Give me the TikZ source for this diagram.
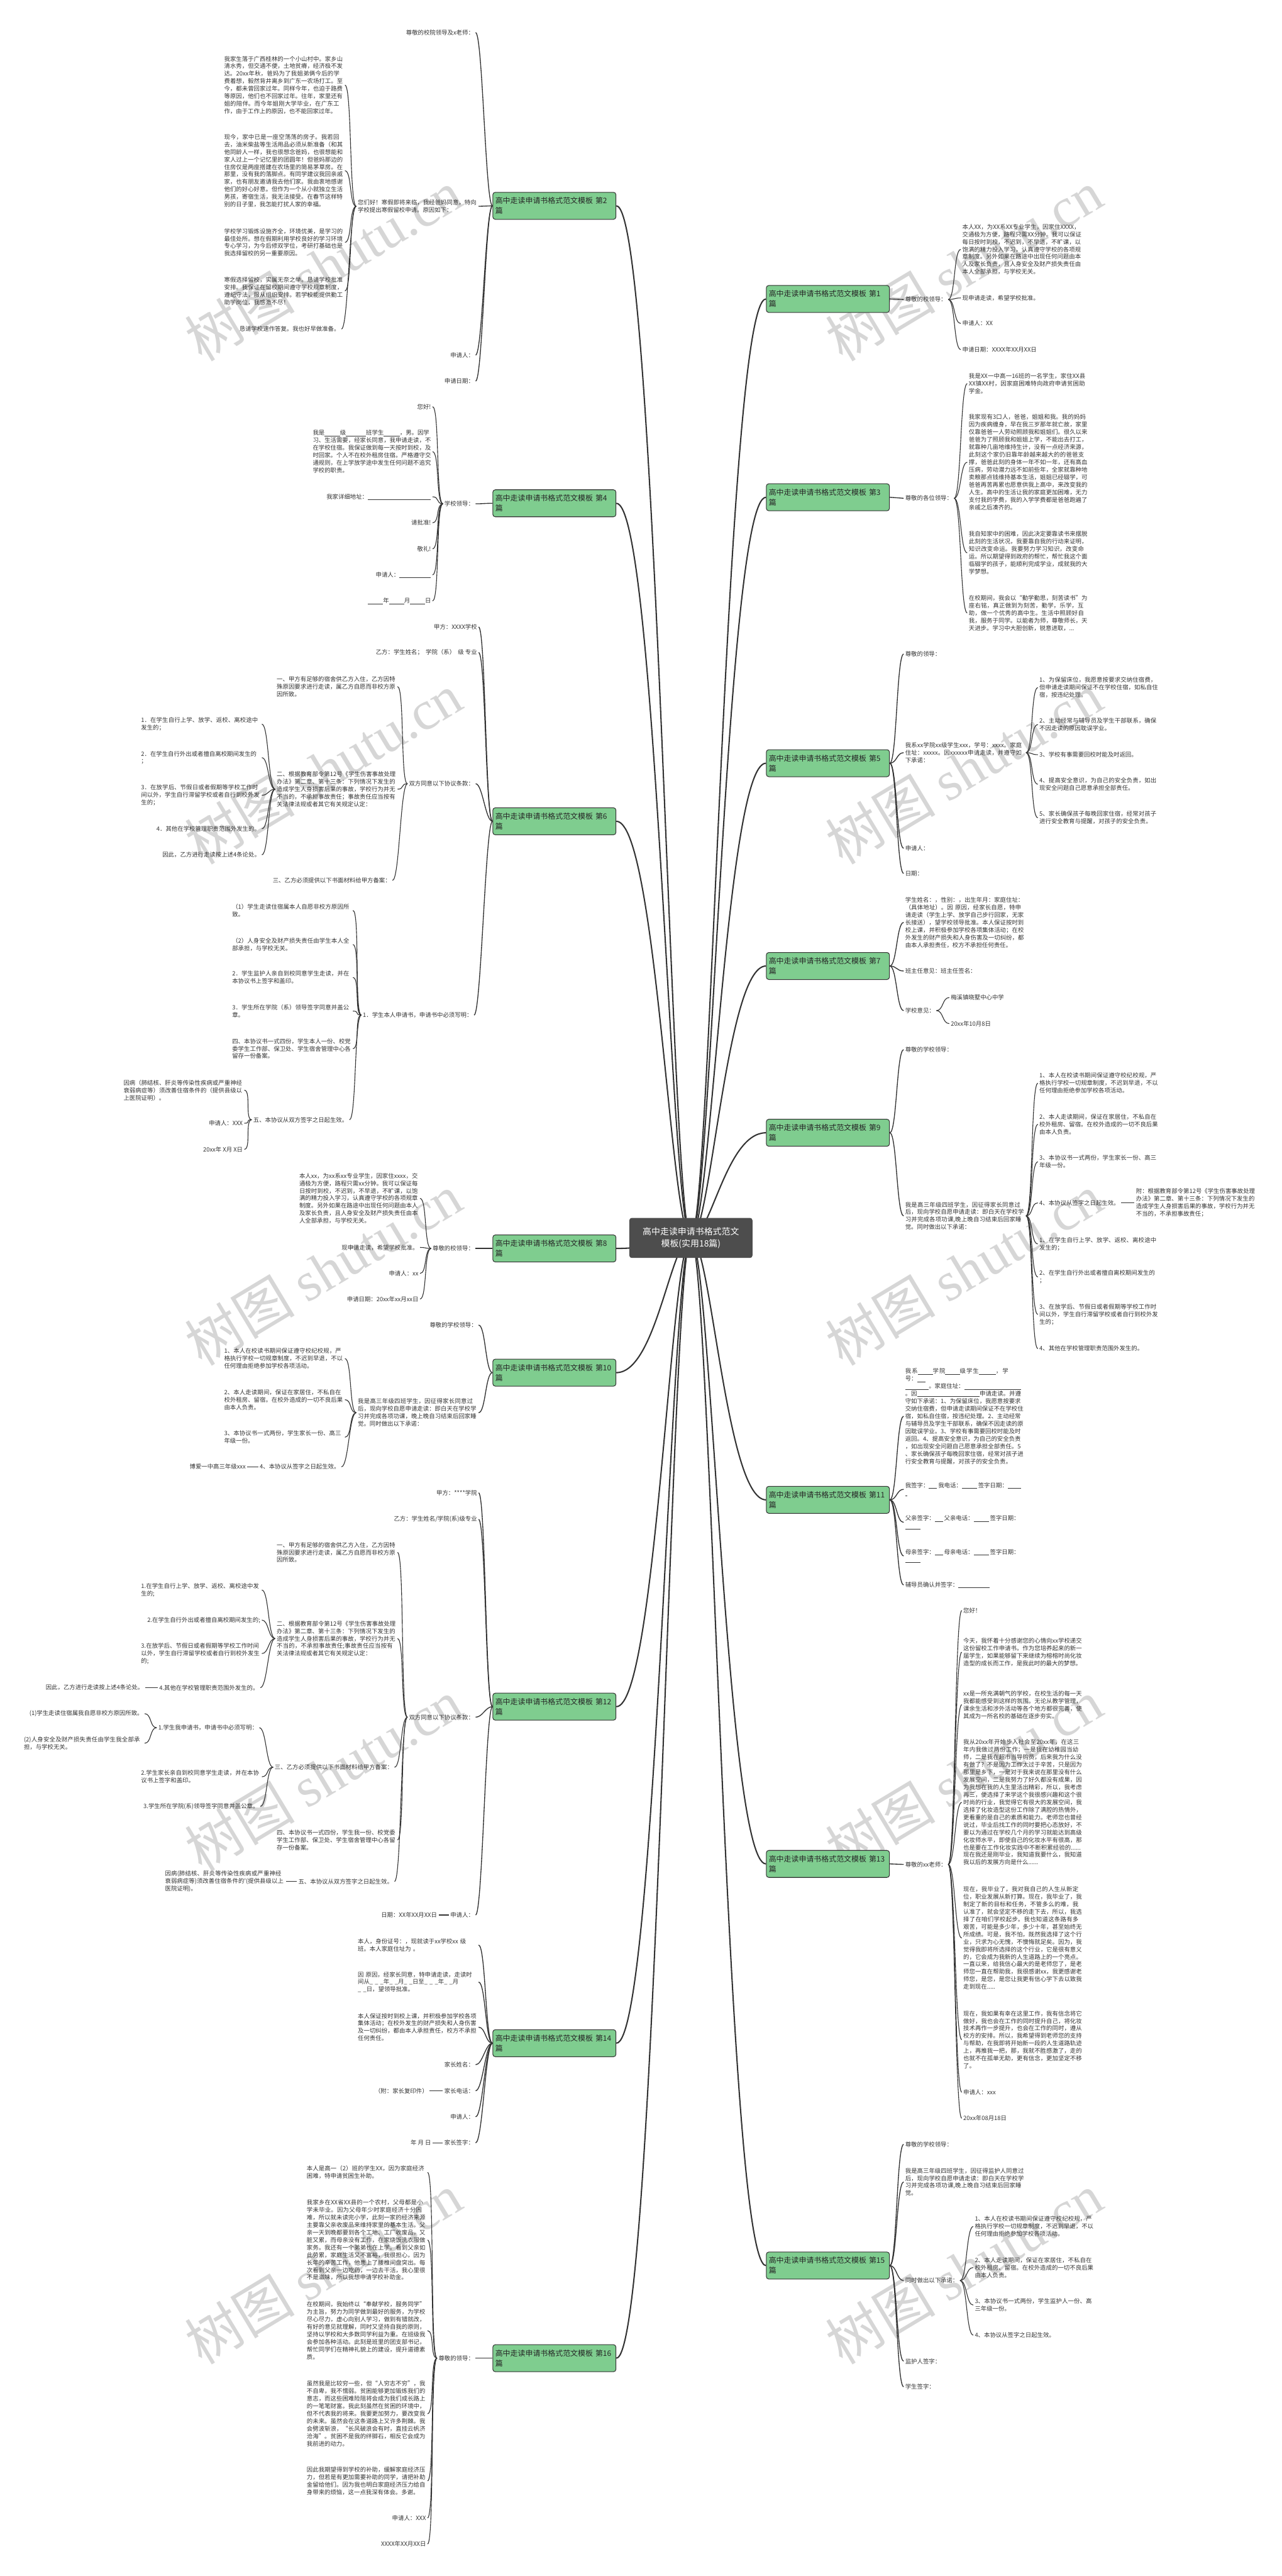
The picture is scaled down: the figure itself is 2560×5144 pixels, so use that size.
\documentclass[tikz,border=0pt]{standalone}
\usepackage{fontspec}
\newfontfamily\cjk{Noto Sans CJK SC}
\newfontfamily\wmlatin{Liberation Serif}
\XeTeXlinebreaklocale "zh"
\XeTeXlinebreakskip = 0pt plus 1pt
\definecolor{ink}{HTML}{333333}
\definecolor{pianfill}{HTML}{7FCD8F}
\definecolor{rootfill}{HTML}{4D4D4D}
\definecolor{wmgray}{HTML}{D6D6D6}
\newcommand{\leaffont}{\cjk\fontsize{11.8}{15}\selectfont}
\newcommand{\pianfont}{\cjk\fontsize{15}{20}\selectfont}
\newcommand{\rootfont}{\cjk\fontsize{17.5}{24}\selectfont}
\newcommand{\wmfont}{\cjk\fontsize{110}{110}\selectfont}
\newcommand{\fillin}[1]{\underline{\hspace{#1}}}
\tikzset{
  leaf/.style={font=\leaffont, text=ink, inner xsep=3pt, inner ysep=1pt, align=left},
  para/.style={leaf, text width=238pt},
  pian/.style={draw=ink, line width=1.3pt, fill=pianfill, rounded corners=5pt,
    font=\pianfont, text=black!85, text width=236pt, align=left,
    inner xsep=5pt, inner ysep=8pt, minimum height=54pt},
  hubnode/.style={fill=rootfill, rounded corners=5pt, font=\rootfont, text=white,
    align=center, minimum width=246pt, minimum height=80pt},
  trunk/.style={draw=ink, line width=2.6pt},
  link/.style={draw=ink, line width=1.7pt},
  twig/.style={draw=ink, line width=1.4pt},
  rto/.style={to path={.. controls +(14,0) and +(-14,0) .. (\tikztotarget)}},
  lto/.style={to path={.. controls +(-14,0) and +(14,0) .. (\tikztotarget)}},
  wmark/.style={font=\wmfont, text=wmgray, rotate=31},
}
\begin{document}
\begin{tikzpicture}[x=1pt, y=-1pt]
  \useasboundingbox (0,0) rectangle (2560,5144);
  \fill[white] (0,0) rectangle (2560,5144);
  %% watermarks
  \foreach \wy [count=\i] in {530,1535,2535,3545,4530} {
    \node[wmark] (wl\i) at (646,\wy) {树图 {\wmlatin shutu.cn}};
    \node[wmark] (wr\i) at (1925,\wy) {树图 {\wmlatin shutu.cn}};
  }
  \coordinate (hub) at (1380,2472);

  %% ---------- right side ----------
  \node[pian, anchor=west] (p1) at (1530,597) {高中走读申请书格式范文模板 第1\\篇};
  \node[leaf, anchor=west] (p1a) at (1805,598) {尊敬的校领导：};
  \node[para, anchor=west] (p1a1) at (1919,498) {本人XX，为XX系XX专业学生，因家住XXXX，交通极为方便，路程只需XX分钟。我可以保证每日按时到校，不迟到，不早退，不旷课，以饱满的精力投入学习，认真遵守学校的各项规章制度。另外如果在路途中出现任何问题由本人及家长负责，且人身安全及财产损失责任由本人全部承担，与学校无关。};
  \node[leaf, anchor=west] (p1a2) at (1919,595) {现申请走读，希望学校批准。};
  \node[leaf, anchor=west] (p1a3) at (1919,646) {申请人：XX};
  \node[leaf, anchor=west] (p1a4) at (1919,698) {申请日期：XXXX年XX月XX日};

  \node[pian, anchor=west] (p3) at (1530,993) {高中走读申请书格式范文模板 第3\\篇};
  \node[leaf, anchor=west] (p3a) at (1805,995) {尊敬的各位领导：};
  \node[para, anchor=west] (p3a1) at (1932,766) {我是XX一中高一16班的一名学生，家住XX县XX镇XX村，因家庭困难特向政府申请贫困助学金。};
  \node[para, anchor=west] (p3a2) at (1932,923) {我家现有3口人，爸爸，姐姐和我。我的妈妈因为疾病缠身，早在我三岁那年就亡故，家里仅靠爸爸一人劳动照顾我和姐姐们。很久以来爸爸为了照顾我和姐姐上学，不能出去打工，就靠种几亩地维持生计，没有一点经济来源，此刻这个家仍旧靠年龄越来越大的的爸爸支撑，爸爸此刻的身体一年不如一年，还有高血压病，劳动潜力远不如前些年，全家就靠种地卖粮那点钱维持基本生活，姐姐已经辍学，可爸爸再苦再累也愿意供我上高中，来改变我的人生。高中的生活让我的家庭更加困难，无力支付我的学费，我的入学学费都是爸爸跑遍了亲戚之后凑齐的。};
  \node[para, anchor=west] (p3a3) at (1932,1104) {我自知家中的困难，因此决定要靠读书来摆脱此刻的生活状况，我要靠自我的行动来证明，知识改变命运。我要努力学习知识，改变命运。所以期望得到政府的帮忙，帮忙我这个面临辍学的孩子，能顺利完成学业，成就我的大学梦想。};
  \node[para, anchor=west] (p3a4) at (1932,1224) {在校期间，我会以“勤学勤思，刻苦读书”为座右铭，真正做到为刻苦，勤学，乐学，互助，做一个优秀的高中生。生活中照顾好自我，服务于同学。以能者为师，尊敬师长，天天进步。学习中大胆创新，锐意进取，...};

  \node[pian, anchor=west] (p5) at (1530,1524) {高中走读申请书格式范文模板 第5\\篇};
  \node[leaf, anchor=west] (p5a) at (1805,1306) {尊敬的领导：};
  \node[para, anchor=west] (p5b) at (1805,1503) {我系xx学院xx级学生xxx，学号：xxxx。家庭住址：xxxxx。因xxxxxx申请走读，并遵守如下承诺：};
  \node[para, anchor=west] (p5b1) at (2073,1373) {1、为保留床位，我愿意按要求交纳住宿费，但申请走读期间保证不在学校住宿，如私自住宿，按违纪处理。};
  \node[para, anchor=west] (p5b2) at (2073,1447) {2、主动经常与辅导员及学生干部联系，确保不因走读的原因耽误学业。};
  \node[leaf, anchor=west] (p5b3) at (2073,1507) {3、学校有事需要回校时能及时返回。};
  \node[para, anchor=west] (p5b4) at (2073,1566) {4、提高安全意识，为自己的安全负责，如出现安全问题自己愿意承担全部责任。};
  \node[para, anchor=west] (p5b5) at (2073,1633) {5、家长确保孩子每晚回家住宿，经常对孩子进行安全教育与提醒，对孩子的安全负责。};
  \node[leaf, anchor=west] (p5c) at (1805,1694) {申请人：};
  \node[leaf, anchor=west] (p5d) at (1805,1744) {日期：};

  \node[pian, anchor=west] (p7) at (1530,1929) {高中走读申请书格式范文模板 第7\\篇};
  \node[para, anchor=west] (p7a) at (1805,1842) {学生姓名：，性别：，出生年月：家庭住址：（具体地址）。因 原因，经家长自愿，特申请走读（学生上学、放学自己步行回家，无家长接送），望学校领导批准。本人保证按时到校上课，并积极参加学校各项集体活动；在校外发生的财产损失和人身伤害及一切纠纷，都由本人承担责任，校方不承担任何责任。};
  \node[leaf, anchor=west] (p7b) at (1805,1939) {班主任意见：班主任签名：};
  \node[leaf, anchor=west] (p7c) at (1805,2018) {学校意见：};
  \node[leaf, anchor=west] (p7c1) at (1896,1992) {梅溪镇晓墅中心中学};
  \node[leaf, anchor=west] (p7c2) at (1896,2044) {20xx年10月8日};

  \node[pian, anchor=west] (p9) at (1530,2262) {高中走读申请书格式范文模板 第9\\篇};
  \node[leaf, anchor=west] (p9a) at (1805,2096) {尊敬的学校领导：};
  \node[para, anchor=west] (p9b) at (1805,2428) {我是高三年级四班学生，因征得家长同意过后，现向学校自愿申请走读：即白天在学校学习并完成各项功课,晚上晚自习结束后回家睡觉。同时做出以下承诺：};
  \node[para, anchor=west] (p9b1) at (2073,2163) {1、本人在校读书期间保证遵守校纪校规，严格执行学校一切规章制度，不迟到早退，不以任何理由拒绝参加学校各项活动。};
  \node[para, anchor=west] (p9b2) at (2073,2245) {2、本人走读期间，保证在家居住，不私自在校外租房、留宿。在校外造成的一切不良后果由本人负责。};
  \node[para, anchor=west] (p9b3) at (2073,2320) {3、本协议书一式两份，学生家长一份、高三年级一份。};
  \node[leaf, anchor=west] (p9b4) at (2073,2402) {4、本协议从签字之日起生效。};
  \node[para, anchor=west] (p9b4a) at (2266,2402) {附：根据教育部令第12号《学生伤害事故处理办法》第二章、第十三条：下列情况下发生的造成学生人身损害后果的事故，学校行为并无不当的，不承担事故责任；};
  \node[para, anchor=west] (p9b5) at (2073,2484) {1、在学生自行上学、放学、返校、离校途中发生的；};
  \node[para, anchor=west] (p9b6) at (2073,2550) {2、在学生自行外出或者擅自离校期间发生的\\；};
  \node[para, anchor=west] (p9b7) at (2073,2625) {3、在放学后、节假日或者假期等学校工作时间以外，学生自行滞留学校或者自行到校外发生的；};
  \node[leaf, anchor=west] (p9b8) at (2073,2693) {4、其他在学校管理职责范围外发生的。};

  \node[pian, anchor=west] (p11) at (1530,2995) {高中走读申请书格式范文模板 第11\\篇};
  \node[para, anchor=west] (p11a) at (1805,2828) {我系\fillin{30pt}学院\fillin{29pt}级学生\fillin{34pt}，学号：\fillin{17pt}\\
    \fillin{47pt}。家庭住址：\fillin{114pt}\\
    。因\fillin{125pt}申请走读。并遵\\
    守如下承诺：1、为保留床位，我愿意按要求\\
    交纳住宿费，但申请走读期间保证不在学校住\\
    宿，如私自住宿，按违纪处理。2、主动经常\\
    与辅导员及学生干部联系，确保不因走读的原\\
    因耽误学业。3、学校有事需要回校时能及时\\
    返回。4、提高安全意识，为自己的安全负责\\
    ，如出现安全问题自己愿意承担全部责任。5\\
    、家长确保孩子每晚回家住宿，经常对孩子进\\
    行安全教育与提醒，对孩子的安全负责。};
  \node[leaf, anchor=west] (p11b) at (1805,2974) {我签字：\fillin{16pt} 我电话：\fillin{30pt} 签字日期：\fillin{26pt}\\\fillin{4pt}};
  \node[leaf, anchor=west] (p11c) at (1805,3040) {父亲签字：\fillin{16pt} 父亲电话：\fillin{30pt} 签字日期：\\\fillin{30pt}};
  \node[leaf, anchor=west] (p11d) at (1805,3107) {母亲签字：\fillin{16pt} 母亲电话：\fillin{30pt} 签字日期：\\\fillin{30pt}};
  \node[leaf, anchor=west] (p11e) at (1805,3165) {辅导员确认并签字：\fillin{62pt}};

  \node[pian, anchor=west] (p13) at (1530,3722) {高中走读申请书格式范文模板 第13\\篇};
  \node[leaf, anchor=west] (p13a) at (1805,3723) {尊敬的xx老师：};
  \node[leaf, anchor=west] (p13a1) at (1921,3216) {您好！};
  \node[para, anchor=west] (p13a2) at (1921,3299) {今天，我怀着十分感谢您的心情向xx学校递交这份留校工作申请书。作为您培养起来的新一届学生，如果能够留下来继续为榕榕时尚化妆造型的成长而工作，是我此时的最大的梦想。};
  \node[para, anchor=west] (p13a3) at (1921,3404) {xx是一所充满朝气的学校，在校生活的每一天我都能感受到这样的氛围。无论从教学管理，课余生活和涉外活动等各个地方都很完善，使其成为一所名校的基础在逐步夯实。};
  \node[para, anchor=west] (p13a4) at (1921,3599) {我从20xx年开始步入社会至20xx年，在这三年内我做过两份工作；一是我在幼稚园当幼师，二是我在超市当导购员，后来我为什么没有做了？不是因为工作太过于辛苦，只是因为那里是乡下，一是对于我来说在那里没有什么发展空间，二是我努力了好久都没有成果，因为我想在我的人生里活出精彩，所以，我考虑再三，便选择了来学这个我很感兴趣和这个很时尚的行业，我觉得它有很大的发展空间，我选择了化妆造型这份工作除了满腔的热情外，更看重的是自己的素质和能力。老师您也曾经说过，毕业后找工作的同时要把心态放好，不要以为通过在学校几个月的学习就能达到高级化妆师水平，即使自己的化妆水平有很高，那也是要在工作化妆实践中不断积累经验的......现在我还是刚毕业，我知道我要什么，我知道我以后的发展方向是什么......};
  \node[para, anchor=west] (p13a5) at (1921,3870) {现在，我毕业了，我对我自己的人生从新定位，职业发展从新打算。现在，我毕业了，我制定了新的目标和任务，不管多么的难，我认准了，就会坚定不移的走下去，所以，我选择了在咱们学校起步。我也知道这条路有多艰苦，可能是多少年，多少十年，甚至始终无所成绩。可是，我不怕，既然我选择了这个行业，只求为心无愧，不懊悔就足矣。因为，我觉得我即将所选择的这个行业，它是很有意义的，它会成为我新的人生道路上的一个亮点。一直以来，给我信心最大的是老师您了，是老师您一直在帮助我，我很感谢xx，我更感谢老师您，是您，是您让我更有信心学下去以致我走到现在.....};
  \node[para, anchor=west] (p13a6) at (1921,4073) {现在，我如果有幸在这里工作，我有信念将它做好，我也会在工作的同时提升自己，将化妆技术再作一步提升，也会在工作的同时，遵从校方的安排。所以，我希望得到老师您的支持与帮助，在我即将开始新一段的人生道路轨迹上，再推我一把，那，我就不胜感激了，走的也就不在孤单无助，更有信念，更加坚定不移了。};
  \node[leaf, anchor=west] (p13a7) at (1921,4178) {申请人：xxx};
  \node[leaf, anchor=west] (p13a8) at (1921,4230) {20xx年08月18日};

  \node[pian, anchor=west] (p15) at (1530,4524) {高中走读申请书格式范文模板 第15\\篇};
  \node[leaf, anchor=west] (p15a) at (1805,4282) {尊敬的学校领导：};
  \node[para, anchor=west] (p15b) at (1805,4357) {我是高三年级四班学生，因征得监护人同意过后，现向学校自愿申请走读：即白天在学校学习并完成各项功课,晚上晚自习结束后回家睡觉。};
  \node[leaf, anchor=west] (p15c) at (1805,4554) {同时做出以下承诺：};
  \node[para, anchor=west] (p15c1) at (1944,4446) {1、本人在校读书期间保证遵守校纪校规，严格执行学校一切规章制度，不迟到早退，不以任何理由拒绝参加学校各项活动。};
  \node[para, anchor=west] (p15c2) at (1944,4528) {2、本人走读期间，保证在家居住，不私自在校外租房、留宿。在校外造成的一切不良后果由本人负责。};
  \node[para, anchor=west] (p15c3) at (1944,4603) {3、本协议书一式两份，学生监护人一份、高三年级一份。};
  \node[leaf, anchor=west] (p15c4) at (1944,4663) {4、本协议从签字之日起生效。};
  \node[leaf, anchor=west] (p15d) at (1805,4715) {监护人签字：};
  \node[leaf, anchor=west] (p15e) at (1805,4766) {学生签字：};

  %% ---------- left side ----------
  \node[pian, anchor=east] (p2) at (1231,411) {高中走读申请书格式范文模板 第2\\篇};
  \node[leaf, anchor=east] (p2a) at (950,65) {尊敬的校院领导及x老师：};
  \node[para, anchor=east] (p2b) at (956,412) {您们好！寒假即将来临，我经爸妈同意，特向学校提出寒假留校申请。原因如下：};
  \node[para, anchor=east] (p2b1) at (689,170) {我家生落于广西桂林的一个小山村中。家乡山清水秀，但交通不便，土地贫瘠，经济极不发达。20xx年秋，爸妈为了我姐弟俩今后的学费着想，毅然背井离乡到广东一农场打工。至今，都未曾回家过年。同样今年，也迫于路费等原因，他们也不回家过年。往年，家里还有姐的陪伴。而今年姐刚大学毕业，在广东工作，由于工作上的原因，也不能回家过年。};
  \node[para, anchor=east] (p2b2) at (689,341) {现今，家中已是一座空荡荡的房子。我若回去，油米柴盐等生活用品必须从新准备（和其他同龄人一样，我也很想念爸妈，也很想能和家人过上一个记忆里的团圆年！但爸妈那边的住房仅是两座搭建在农场里的简易茅草房。在那里，没有我的落脚点。有同学建议我回亲戚家，也有朋友邀请我去他们家。我由衷地感谢他们的好心好意。但作为一个从小就独立生活男孩，寄宿生活，我无法接受。在春节这样特别的日子里，我怎能打扰人家的幸福。};
  \node[para, anchor=east] (p2b3) at (689,484) {学校学习锻炼设施齐全，环境优美，是学习的最佳处所。想在假期利用学校良好的学习环境专心学习，为今后修双学位，考研打基础也是我选择留校的另一重要原因。};
  \node[para, anchor=east] (p2b4) at (689,581) {寒假选择留校，实属无奈之举。恳请学校批准安排。我保证在留校期间遵守学校规章制度，遵纪守法，服从组织安排。若学校能提供勤工助学岗位，我感激不尽！};
  \node[leaf, anchor=east] (p2b5) at (682,657) {恳请学校速作答复。我也好早做准备。};
  \node[leaf, anchor=east] (p2c) at (950,709) {申请人：};
  \node[leaf, anchor=east] (p2d) at (950,761) {申请日期：};

  \node[pian, anchor=east] (p4) at (1231,1005) {高中走读申请书格式范文模板 第4\\篇};
  \node[leaf, anchor=east] (p4a) at (950,1006) {学校领导：};
  \node[leaf, anchor=east] (p4a1) at (864,812) {您好!};
  \node[leaf, anchor=east] (p4a2) at (864,902) {我是\fillin{31pt}级\fillin{40pt}班学生\fillin{32pt}，男。因学\\
    习、生活需要，经家长同意，我申请走读，不\\
    在学校住宿。我保证做到每一天按时到校，及\\
    时回家。个人不在校外租房住宿。严格遵守交\\
    通规则，在上学放学途中发生任何问题不追究\\
    学校的职责。};
  \node[leaf, anchor=east] (p4a3) at (864,992) {我家详细地址：\fillin{126pt}};
  \node[leaf, anchor=east] (p4a4) at (864,1044) {请批准!};
  \node[leaf, anchor=east] (p4a5) at (864,1096) {敬礼!};
  \node[leaf, anchor=east] (p4a6) at (864,1148) {申请人：\fillin{63pt}};
  \node[leaf, anchor=east] (p4a7) at (864,1200) {\fillin{31pt}年\fillin{30pt}月\fillin{30pt}日};

  \node[pian, anchor=east] (p6) at (1231,1640) {高中走读申请书格式范文模板 第6\\篇};
  \node[leaf, anchor=east] (p6a) at (956,1252) {甲方：XXXX学校};
  \node[leaf, anchor=east] (p6b) at (956,1303) {乙方：学生姓名；\ \ 学院（系）\ \ 级 专业};
  \node[leaf, anchor=east] (p6c) at (950,1565) {双方同意以下协议条款：};
  \node[para, anchor=east] (p6c1) at (794,1371) {一、甲方有足够的宿舍供乙方入住，乙方因特殊原因要求进行走读，属乙方自愿而非校方原因所致。};
  \node[para, anchor=east] (p6c2) at (794,1576) {二、根据教育部令第12号《学生伤害事故处理办法》第二章、第十三条：下列情况下发生的造成学生人身损害后果的事故，学校行为并无不当的，不承担事故责任；事故责任应当按有关法律法规或者其它有关规定认定：};
  \node[para, anchor=east] (p6c2a) at (523,1446) {1．在学生自行上学、放学、返校、离校途中发生的；};
  \node[para, anchor=east] (p6c2b) at (523,1513) {2．在学生自行外出或者擅自离校期间发生的\\；};
  \node[para, anchor=east] (p6c2c) at (523,1588) {3．在放学后、节假日或者假期等学校工作时间以外，学生自行滞留学校或者自行到校外发生的；};
  \node[leaf, anchor=east] (p6c2d) at (523,1655) {4．其他在学校管理职责范围外发生的。};
  \node[leaf, anchor=east] (p6c2e) at (523,1707) {因此，乙方进行走读按上述4条论处。};
  \node[leaf, anchor=east] (p6c3) at (784,1758) {三、乙方必须提供以下书面材料给甲方备案：};
  \node[leaf, anchor=east] (p6d) at (947,2027) {1．学生本人申请书，申请书中必须写明：};
  \node[para, anchor=east] (p6d1) at (705,1818) {（1）学生走读住宿属本人自愿非校方原因所致。};
  \node[para, anchor=east] (p6d2) at (705,1886) {（2）人身安全及财产损失责任由学生本人全部承担，与学校无关。};
  \node[para, anchor=east] (p6d3) at (705,1952) {2．学生监护人亲自到校同意学生走读，并在本协议书上签字和盖印。};
  \node[para, anchor=east] (p6d4) at (705,2019) {3．学生所在学院（系）领导签字同意并盖公章。};
  \node[para, anchor=east] (p6d5) at (705,2094) {四、本协议书一式四份，学生本人一份、校党委学生工作部、保卫处、学生宿舍管理中心各留存一份备案。};
  \node[leaf, anchor=east] (p6d6) at (698,2236) {五、本协议从双方签字之日起生效。};
  \node[para, anchor=east] (p6d6a) at (488,2177) {因病（肺结核、肝炎等传染性疾病或严重神经衰弱病症等）须改善住宿条件的（提供县级以上医院证明）。};
  \node[leaf, anchor=east] (p6d6b) at (488,2243) {申请人：XXX};
  \node[leaf, anchor=east] (p6d6c) at (488,2295) {20xx年 X月 X日};

  \node[pian, anchor=east] (p8) at (1231,2493) {高中走读申请书格式范文模板 第8\\篇};
  \node[leaf, anchor=east] (p8a) at (950,2493) {尊敬的校领导：};
  \node[para, anchor=east] (p8a1) at (839,2393) {本人xx，为xx系xx专业学生，因家住xxxx，交通极为方便，路程只需xx分钟。我可以保证每日按时到校，不迟到，不早退，不旷课，以饱满的精力投入学习，认真遵守学校的各项规章制度。另外如果在路途中出现任何问题由本人及家长负责，且人身安全及财产损失责任由本人全部承担，与学校无关。};
  \node[leaf, anchor=east] (p8a2) at (839,2491) {现申请走读，希望学校批准。};
  \node[leaf, anchor=east] (p8a3) at (839,2543) {申请人：xx};
  \node[leaf, anchor=east] (p8a4) at (839,2594) {申请日期：20xx年xx月xx日};

  \node[pian, anchor=east] (p10) at (1231,2741) {高中走读申请书格式范文模板 第10\\篇};
  \node[leaf, anchor=east] (p10a) at (956,2646) {尊敬的学校领导：};
  \node[para, anchor=east] (p10b) at (956,2821) {我是高三年级四班学生，因征得家长同意过后，现向学校自愿申请走读：即白天在学校学习并完成各项功课，晚上晚自习结束后回家睡觉。同时做出以下承诺：};
  \node[para, anchor=east] (p10b1) at (689,2713) {1、本人在校读书期间保证遵守校纪校规，严格执行学校一切规章制度，不迟到早退，不以任何理由拒绝参加学校各项活动。};
  \node[para, anchor=east] (p10b2) at (689,2795) {2、本人走读期间，保证在家居住，不私自在校外租房、留宿。在校外造成的一切不良后果由本人负责。};
  \node[para, anchor=east] (p10b3) at (689,2870) {3、本协议书一式两份，学生家长一份、高三年级一份。};
  \node[leaf, anchor=east] (p10b4) at (682,2929) {4、本协议从签字之日起生效。};
  \node[leaf, anchor=east] (p10b4a) at (494,2929) {博爱一中高三年级xxx};

  \node[pian, anchor=east] (p12) at (1231,3408) {高中走读申请书格式范文模板 第12\\篇};
  \node[leaf, anchor=east] (p12a) at (956,2981) {甲方：****学院};
  \node[leaf, anchor=east] (p12b) at (956,3034) {乙方：学生姓名/学院(系)级专业};
  \node[leaf, anchor=east] (p12c) at (950,3429) {双方同意以下协议条款：};
  \node[para, anchor=east] (p12c1) at (794,3100) {一、甲方有足够的宿舍供乙方入住，乙方因特殊原因要求进行走读，属乙方自愿而非校方原因所致。};
  \node[para, anchor=east] (p12c2) at (794,3272) {二、根据教育部令第12号《学生伤害事故处理办法》第二章、第十三条：下列情况下发生的造成学生人身损害后果的事故，学校行为并无不当的，不承担事故责任;事故责任应当按有关法律法规或者其它有关规定认定：};
  \node[para, anchor=east] (p12c2a) at (523,3175) {1.在学生自行上学、放学、返校、离校途中发生的;};
  \node[leaf, anchor=east] (p12c2b) at (523,3235) {2.在学生自行外出或者擅自离校期间发生的;};
  \node[para, anchor=east] (p12c2c) at (523,3302) {3.在放学后、节假日或者假期等学校工作时间以外，学生自行滞留学校或者自行到校外发生的;};
  \node[leaf, anchor=east] (p12c2d) at (520,3370) {4.其他在学校管理职责范围外发生的。};
  \node[leaf, anchor=east] (p12c2da) at (290,3370) {因此，乙方进行走读按上述4条论处。};
  \node[leaf, anchor=east] (p12c3) at (788,3529) {三、乙方必须提供以下书面材料给甲方备案：};
  \node[leaf, anchor=east] (p12c3a) at (518,3450) {1.学生我申请书，申请书中必须写明：};
  \node[leaf, anchor=east] (p12c3a1) at (289,3422) {(1)学生走读住宿属我自愿非校方原因所致。};
  \node[para, anchor=east] (p12c3a2) at (289,3481) {(2)人身安全及财产损失责任由学生我全部承担，与学校无关。};
  \node[para, anchor=east] (p12c3b) at (523,3548) {2.学生家长亲自到校同意学生走读，并在本协议书上签字和盖印。};
  \node[leaf, anchor=east] (p12c3c) at (520,3607) {3.学生所在学院(系)领导签字同意并盖公章。};
  \node[para, anchor=east] (p12c4) at (794,3674) {四、本协议书一式四份，学生我一份、校党委学生工作部、保卫处、学生宿舍管理中心各留存一份备案。};
  \node[leaf, anchor=east] (p12c5) at (788,3757) {五、本协议从双方签字之日起生效。};
  \node[para, anchor=east] (p12c5a) at (571,3757) {因病(肺结核、肝炎等传染性疾病或严重神经衰弱病症等)须改善住宿条件的'(提供县级以上医院证明)。};
  \node[leaf, anchor=east] (p12d) at (950,3824) {申请人：};
  \node[leaf, anchor=east] (p12da) at (876,3824) {日期：XX年XX月XX日};

  \node[pian, anchor=east] (p14) at (1231,4080) {高中走读申请书格式范文模板 第14\\篇};
  \node[para, anchor=east] (p14a) at (956,3884) {本人，身份证号：，现就读于xx学校xx 级\\班。本人家庭住址为 。};
  \node[para, anchor=east] (p14b) at (956,3958) {因 原因，经家长同意，特申请走读，走读时\\间从\_ \_ \_年\_ \_月\_ \_日至\_ \_ \_年\_ \_月\\\_ \_日，望领导批准。};
  \node[para, anchor=east] (p14c) at (956,4048) {本人保证按时到校上课，并积极参加学校各项集体活动；在校外发生的财产损失和人身伤害及一切纠纷，都由本人承担责任，校方不承担任何责任。};
  \node[leaf, anchor=east] (p14d) at (950,4123) {家长姓名：};
  \node[leaf, anchor=east] (p14e) at (950,4175) {家长电话：};
  \node[leaf, anchor=east] (p14ea) at (858,4175) {（附：家长复印件）};
  \node[leaf, anchor=east] (p14f) at (950,4227) {申请人：};
  \node[leaf, anchor=east] (p14g) at (950,4279) {家长签字：};
  \node[leaf, anchor=east] (p14ga) at (864,4279) {年 月 日};

  \node[pian, anchor=east] (p16) at (1231,4709) {高中走读申请书格式范文模板 第16\\篇};
  \node[leaf, anchor=east] (p16a) at (950,4709) {尊敬的领导：};
  \node[para, anchor=east] (p16a1) at (854,4338) {本人是高一（2）班的学生XX，因为家庭经济困难，特申请贫困生补助。};
  \node[para, anchor=east] (p16a2) at (854,4473) {我家乡在XX省XX县的一个农村，父母都是小学未毕业。因为父母年少时家庭经济十分困难，所以就未读完小学，此刻一家的经济来源主要靠父亲收废品来维持家里的基本生活。父亲一天到晚都要到各个工地、工厂收废品，又脏又累，而母亲没有工作，在家烧饭洗衣服做家务。我还有一个弟弟也在上学。看到父亲如此劳累，家庭生活又不富裕，我很担心，因为长年的辛苦工作，他患上了腰椎间盘突出。每次看到父亲一边吃药，一边去干活，我心里很不是滋味，所以我想申请学校补助金。};
  \node[para, anchor=east] (p16a3) at (854,4654) {在校期间，我始终以“奉献学校，服务同学”为主旨，努力为同学做到最好的服务，为学校尽心尽力，虚心向别人学习，做到有错就改，有好的意见就理解，同时又坚持自我的原则，坚持以学校和大多数同学利益为重。在班级我会参加各种活动。此刻是班里的团支部书记，帮忙同学们在精神礼貌上的建设，提升道德素质。};
  \node[para, anchor=east] (p16a4) at (854,4820) {虽然我是比较穷一些，但“人穷志不穷”，我不自卑，我不懦弱。贫困能够更加锻炼我们的意志，而这些困难险阻将会成为我们成长路上的一笔笔财富。我此刻虽然在贫困的环境中，但不代表我的将来。我要更加努力，要改变我的未来。虽然会在这条道路上又许多荆棘。我会劈波斩浪，“长风破浪会有时，直挂云帆济沧海”。贫困不是我的绊脚石，相反它会成为我前进的动力。};
  \node[para, anchor=east] (p16a5) at (854,4954) {因此我期望得到学校的补助，缓解家庭经济压力，但若是有更加需要补助的同学，请把补助金留给他们。因为我也明白家庭经济压力给自身带来的烦恼，这一点我深有体会。多谢。};
  \node[leaf, anchor=east] (p16a6) at (854,5028) {申请人：XXX};
  \node[leaf, anchor=east] (p16a7) at (854,5080) {XXXX年XX月XX日};

  %% ---------- connectors, right ----------
  \draw[link] (p1.east) to[rto] (p1a.west);
  \foreach \c in {p1a1,p1a2,p1a3,p1a4} \draw[twig] (p1a.east) to[rto] (\c.west);
  \draw[link] (p3.east) to[rto] (p3a.west);
  \foreach \c in {p3a1,p3a2,p3a3,p3a4} \draw[twig] (p3a.east) to[rto] (\c.west);
  \foreach \c in {p5a,p5b,p5c,p5d} \draw[link] (p5.east) to[rto] (\c.west);
  \foreach \c in {p5b1,p5b2,p5b3,p5b4,p5b5} \draw[twig] (p5b.east) to[rto] (\c.west);
  \foreach \c in {p7a,p7b,p7c} \draw[link] (p7.east) to[rto] (\c.west);
  \foreach \c in {p7c1,p7c2} \draw[twig] (p7c.east) to[rto] (\c.west);
  \foreach \c in {p9a,p9b} \draw[link] (p9.east) to[rto] (\c.west);
  \foreach \c in {p9b1,p9b2,p9b3,p9b4,p9b5,p9b6,p9b7,p9b8} \draw[twig] (p9b.east) to[rto] (\c.west);
  \draw[twig] (p9b4.east) -- (p9b4a.west);
  \foreach \c in {p11a,p11b,p11c,p11d,p11e} \draw[link] (p11.east) to[rto] (\c.west);
  \draw[link] (p13.east) to[rto] (p13a.west);
  \foreach \c in {p13a1,p13a2,p13a3,p13a4,p13a5,p13a6,p13a7,p13a8} \draw[twig] (p13a.east) to[rto] (\c.west);
  \foreach \c in {p15a,p15b,p15c,p15d,p15e} \draw[link] (p15.east) to[rto] (\c.west);
  \foreach \c in {p15c1,p15c2,p15c3,p15c4} \draw[twig] (p15c.east) to[rto] (\c.west);

  %% ---------- connectors, left ----------
  \foreach \c in {p2a,p2b,p2c,p2d} \draw[link] (p2.west) to[lto] (\c.east);
  \foreach \c in {p2b1,p2b2,p2b3,p2b4,p2b5} \draw[twig] (p2b.west) to[lto] (\c.east);
  \draw[link] (p4.west) to[lto] (p4a.east);
  \foreach \c in {p4a1,p4a2,p4a3,p4a4,p4a5,p4a6,p4a7} \draw[twig] (p4a.west) to[lto] (\c.east);
  \foreach \c in {p6a,p6b,p6c,p6d} \draw[link] (p6.west) to[lto] (\c.east);
  \foreach \c in {p6c1,p6c2,p6c3} \draw[twig] (p6c.west) to[lto] (\c.east);
  \foreach \c in {p6c2a,p6c2b,p6c2c,p6c2d,p6c2e} \draw[twig] (p6c2.west) to[lto] (\c.east);
  \foreach \c in {p6d1,p6d2,p6d3,p6d4,p6d5,p6d6} \draw[twig] (p6d.west) to[lto] (\c.east);
  \foreach \c in {p6d6a,p6d6b,p6d6c} \draw[twig] (p6d6.west) to[lto] (\c.east);
  \draw[link] (p8.west) to[lto] (p8a.east);
  \foreach \c in {p8a1,p8a2,p8a3,p8a4} \draw[twig] (p8a.west) to[lto] (\c.east);
  \foreach \c in {p10a,p10b} \draw[link] (p10.west) to[lto] (\c.east);
  \foreach \c in {p10b1,p10b2,p10b3,p10b4} \draw[twig] (p10b.west) to[lto] (\c.east);
  \draw[twig] (p10b4.west) -- (p10b4a.east);
  \foreach \c in {p12a,p12b,p12c,p12d} \draw[link] (p12.west) to[lto] (\c.east);
  \foreach \c in {p12c1,p12c2,p12c3,p12c4,p12c5} \draw[twig] (p12c.west) to[lto] (\c.east);
  \foreach \c in {p12c2a,p12c2b,p12c2c,p12c2d} \draw[twig] (p12c2.west) to[lto] (\c.east);
  \draw[twig] (p12c2d.west) -- (p12c2da.east);
  \foreach \c in {p12c3a,p12c3b,p12c3c} \draw[twig] (p12c3.west) to[lto] (\c.east);
  \foreach \c in {p12c3a1,p12c3a2} \draw[twig] (p12c3a.west) to[lto] (\c.east);
  \draw[twig] (p12c5.west) -- (p12c5a.east);
  \draw[twig] (p12d.west) -- (p12da.east);
  \foreach \c in {p14a,p14b,p14c,p14d,p14e,p14f,p14g} \draw[link] (p14.west) to[lto] (\c.east);
  \draw[twig] (p14e.west) -- (p14ea.east);
  \draw[twig] (p14g.west) -- (p14ga.east);
  \draw[link] (p16.west) to[lto] (p16a.east);
  \foreach \c in {p16a1,p16a2,p16a3,p16a4,p16a5,p16a6,p16a7} \draw[twig] (p16a.west) to[lto] (\c.east);

  %% ---------- trunk and root ----------
  \foreach \b in {p1,p3,p5,p7,p9,p11,p13,p15}
    \draw[trunk] (hub) .. controls +(40,0) and +(-80,0) .. (\b.west);
  \foreach \b in {p2,p4,p6,p8,p10,p12,p14,p16}
    \draw[trunk] (hub) .. controls +(-40,0) and +(80,0) .. (\b.east);
  \node[hubnode] (root) at (hub) {高中走读申请书格式范文\\模板(实用18篇)};
\end{tikzpicture}
\end{document}
